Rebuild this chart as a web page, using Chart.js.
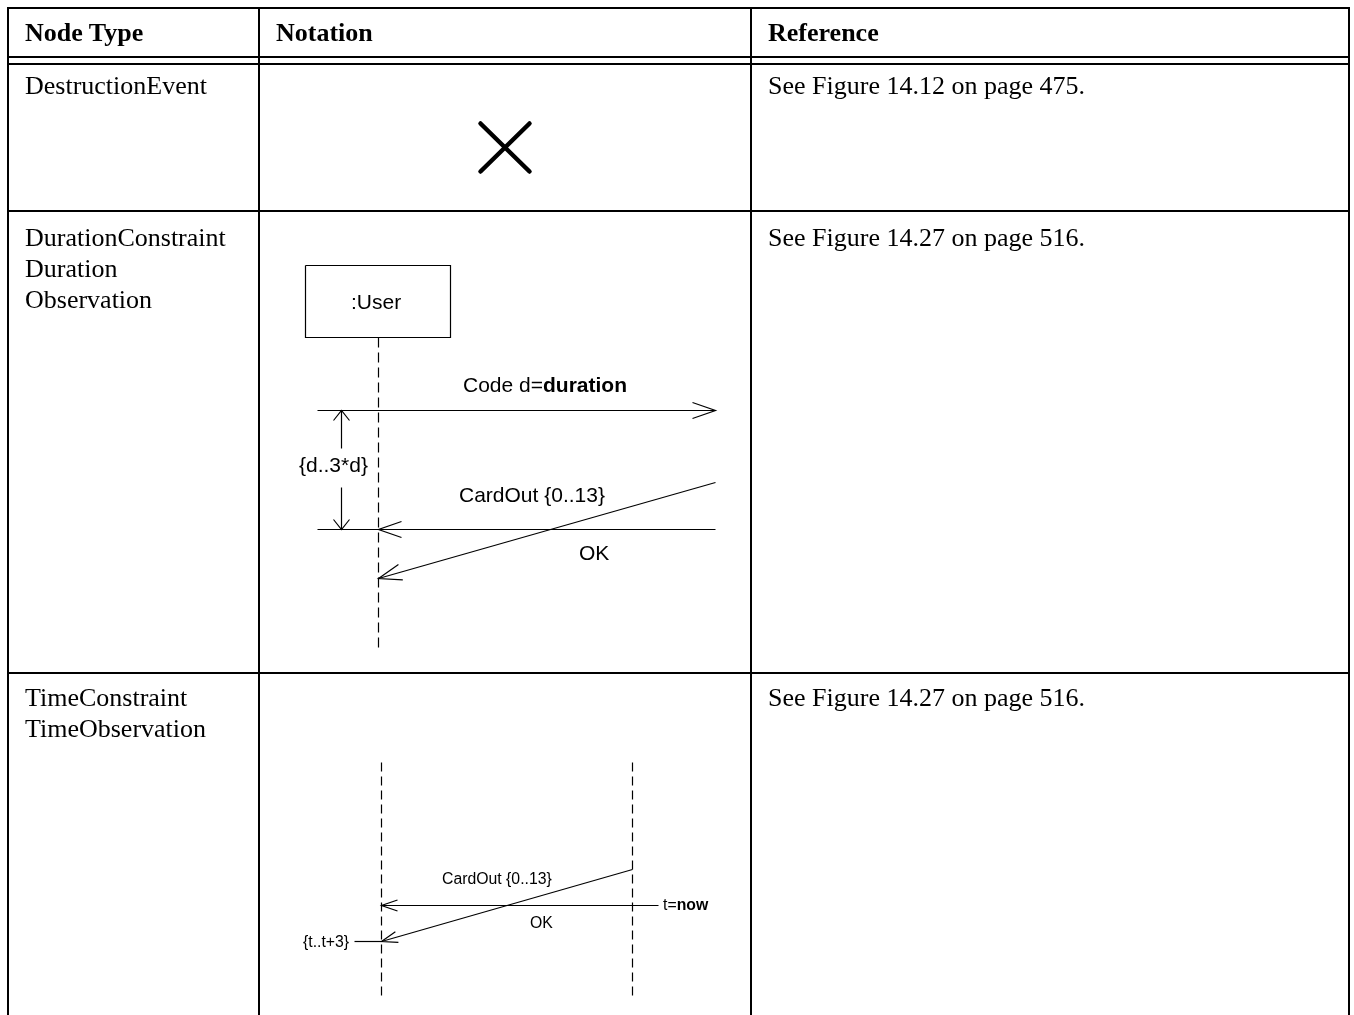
<!DOCTYPE html>
<html lang="en">
<head>
<meta charset="utf-8">
<title>Node Types – Notation</title>
<script src="https://cdn.jsdelivr.net/npm/chart.js"></script>
<style>
  html,body{margin:0;padding:0;background:#fff;}
  #page{position:relative;width:1354px;height:1015px;overflow:hidden;}
  #diagram{position:absolute;left:0;top:0;}
  .rule{position:absolute;background:#000;}
  .serif{position:absolute;font-family:"Liberation Serif","Times New Roman",serif;font-size:26px;line-height:26px;white-space:nowrap;color:#000;}
  .sans{position:absolute;font-family:"Liberation Sans",Arial,sans-serif;line-height:1;white-space:nowrap;color:#000;}
  b{font-weight:bold;}
</style>
</head>
<body>
<div id="page">
  <canvas id="diagram" width="1354" height="1015"></canvas>
</div>
<script>
// ---------------------- Table content ----------------------
const headers = ['Node Type', 'Notation', 'Reference'];
const nodeTypes = [
  ['DestructionEvent'],
  ['DurationConstraint', 'Duration', 'Observation'],
  ['TimeConstraint', 'TimeObservation'],
];
const references = [
  'See Figure 14.12 on page 475.',
  'See Figure 14.27 on page 516.',
  'See Figure 14.27 on page 516.',
];

// table grid (page px)
const colLines = [7, 258, 750, 1348];
const rowLines = [7, 56, 63, 210, 672];
const headerBaseline = 42;
const rowBaselines = [95, 247, 707];
const lineGap = 31;

// ---------------------- Diagram data (page px) ----------------------
// destruction event "X"
const crossStrokes = [[480, 123, 529, 171], [529, 123, 480, 171]];

// duration diagram
const userBox = [305, 265, 450, 337];
const durLifelines = [[378, 337, 650]];
const durMessages = [          // x0,y0 -> x1,y1 (arrow at x1,y1)
  [317, 410, 715, 410],
  [715, 529, 378, 529],
  [715, 482, 378, 578],
];
const durExtra = [[317, 529, 378, 529]];
const durConstraint = [[341, 410, 341, 448], [341, 487, 341, 529]];

// time diagram
const timeLifelines = [[381, 762, 995], [632, 762, 995]];
const timeMessages = [
  [658, 905, 381, 905],
  [632, 869, 381, 941],
];
const timeTick = [[354, 941, 381, 941]];

// labels: [text(html), left, baseline, size]
const diagramLabels = [
  [':User', 351, 309, 21],
  ['Code d=<b>duration</b>', 463, 392, 21],
  ['{d..3*d}', 299, 472, 21],
  ['CardOut {0..13}', 459, 502, 21],
  ['OK', 579, 560, 21],
  ['CardOut {0..13}', 442, 884, 15.8],
  ['t=<b>now</b>', 663, 910, 15.8],
  ['OK', 530, 928, 15.8],
  ['{t..t+3}', 303, 947, 15.8],
];

// ---------------------- HTML table ----------------------
const page = document.getElementById('page');
function rule(x, y, w, h) {
  const d = document.createElement('div');
  d.className = 'rule';
  Object.assign(d.style, { left: x + 'px', top: y + 'px', width: w + 'px', height: h + 'px' });
  page.appendChild(d);
}
const bottom = 1015;
colLines.forEach(x => rule(x, rowLines[0], 2, bottom - rowLines[0]));
rowLines.forEach(y => rule(colLines[0], y, colLines[3] - colLines[0] + 2, 2));

// serif text: baseline ≈ top + 0.8375em when line-height = 1em
function serif(html, left, baseline, bold) {
  const d = document.createElement('div');
  d.className = 'serif';
  d.innerHTML = html;
  d.style.left = left + 'px';
  d.style.top = (baseline - 26 * 0.8375) + 'px';
  if (bold) d.style.fontWeight = 'bold';
  page.appendChild(d);
}
const textLeft = colLines.slice(0, 3).map(x => x + 18);
headers.forEach((h, i) => serif(h, textLeft[i], headerBaseline, true));
nodeTypes.forEach((lines, r) => {
  lines.forEach((t, k) => serif(t, textLeft[0], rowBaselines[r] + k * lineGap));
  serif(references[r], textLeft[2], rowBaselines[r]);
});

diagramLabels.forEach(([html, left, baseline, size]) => {
  const d = document.createElement('div');
  d.className = 'sans';
  d.innerHTML = html;
  d.style.fontSize = size + 'px';
  d.style.left = left + 'px';
  d.style.top = (baseline - size * 0.8465) + 'px';
  page.appendChild(d);
});

// ---------------------- Chart.js drawing ----------------------
const datasets = [];
function seg(pts, opts) {
  datasets.push(Object.assign({
    data: pts.map(([x, y]) => ({ x, y })),
    showLine: true, pointRadius: 0, borderColor: '#000', borderWidth: 1.2,
    fill: false, tension: 0,
  }, opts || {}));
}
// open arrowhead at (x1,y1) pointing along x0->x1
function arrow(x0, y0, x1, y1, len, half) {
  const dx = x1 - x0, dy = y1 - y0, L = Math.hypot(dx, dy);
  const ux = dx / L, uy = dy / L;
  const bx = x1 - ux * len, by = y1 - uy * len;
  seg([[bx - uy * half, by + ux * half], [x1, y1], [bx + uy * half, by - ux * half]]);
}

crossStrokes.forEach(([a, b, c, d]) =>
  seg([[a, b], [c, d]], { borderWidth: 4.5, borderCapStyle: 'round' }));

const [bx0, by0, bx1, by1] = userBox;
seg([[bx0, by0], [bx1, by0], [bx1, by1], [bx0, by1], [bx0, by0]]);
durLifelines.forEach(([x, y0, y1]) => seg([[x, y0], [x, y1]], { borderDash: [10, 5] }));
durMessages.forEach(([a, b, c, d]) => { seg([[a, b], [c, d]]); arrow(a, b, c, d, 23, 8); });
durExtra.forEach(([a, b, c, d]) => seg([[a, b], [c, d]]));
durConstraint.forEach(([a, b, c, d], i) => {
  seg([[a, b], [c, d]]);
  if (i === 0) arrow(c, d, a, b, 10, 8); else arrow(a, b, c, d, 10, 8);
});

timeLifelines.forEach(([x, y0, y1]) => seg([[x, y0], [x, y1]], { borderDash: [9, 5] }));
timeMessages.forEach(([a, b, c, d]) => { seg([[a, b], [c, d]]); arrow(a, b, c, d, 16, 5.5); });
timeTick.forEach(([a, b, c, d]) => seg([[a, b], [c, d]]));

// scale shifted by half a pixel so 1px strokes land on pixel centres
new Chart(document.getElementById('diagram'), {
  type: 'scatter',
  data: { datasets },
  options: {
    responsive: false,
    animation: false,
    layout: { padding: 0 },
    scales: {
      x: { type: 'linear', min: -0.5, max: 1353.5, display: false },
      y: { type: 'linear', min: -0.5, max: 1014.5, reverse: true, display: false },
    },
    plugins: { legend: { display: false }, tooltip: { enabled: false } },
    events: [],
  },
});
</script>
</body>
</html>
